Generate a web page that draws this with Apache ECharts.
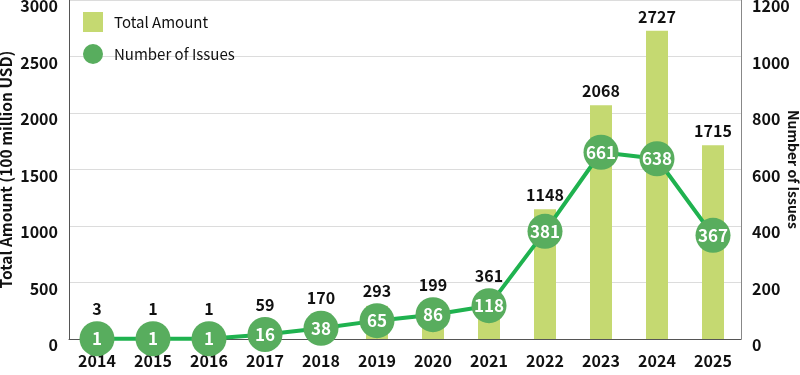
<!DOCTYPE html>
<html><head><meta charset="utf-8">
<script src="https://cdn.jsdelivr.net/npm/echarts@6/dist/echarts.min.js"></script>
<style>html,body{margin:0;padding:0;background:#fff}#c{width:800px;height:375px}</style>
</head><body><div id="c"></div>
<script>
const years = ['2014','2015','2016','2017','2018','2019','2020','2021','2022','2023','2024','2025'];
const totalAmount = [3,1,1,59,170,293,199,361,1148,2068,2727,1715];
const numberOfIssues = [1,1,1,16,38,65,86,118,381,661,638,367];
const leftTicks = {min:0,max:3000,interval:500};
const rightTicks = {min:0,max:1200,interval:200};
const FONT = '"Noto Sans CJK JP", "Noto Sans", sans-serif';
const GRID = {left:69,right:59,top:0,bottom:36};
const plotH = 375 - GRID.top - GRID.bottom;
// lift bar labels above the circle when the circle sits above the bar top
const barData = totalAmount.map((v,i)=>{
  const barPx = (v - leftTicks.min)/(leftTicks.max-leftTicks.min)*plotH;
  const circPx = (numberOfIssues[i]-rightTicks.min)/(rightTicks.max-rightTicks.min)*plotH;
  const lift = Math.max(0, circPx + 16 - barPx);
  return {value:v, label:{offset:[0,-lift]}};
});
const chart = echarts.init(document.getElementById('c'));
const tickLabel = {color:'#111',fontSize:16,fontWeight:'bold',fontFamily:FONT};
chart.setOption({
  animation:false,
  textStyle:{fontFamily:FONT},
  grid:Object.assign({outerBoundsMode:'none',containLabel:false},GRID),
  legend:{
    orient:'vertical', left:78, top:7, itemWidth:20, itemHeight:20, itemGap:12,
    textStyle:{fontFamily:FONT,fontSize:15,color:'#111',padding:[0,0,0,6]},
    data:[{name:'Total Amount',icon:'rect'},{name:'Number of Issues',icon:'circle'}]
  },
  xAxis:{
    type:'category', data:years,
    axisLine:{lineStyle:{color:'#555',width:1}},
    axisTick:{inside:true,length:5,lineStyle:{color:'#555'}},
    axisLabel:Object.assign({margin:14},tickLabel)
  },
  yAxis:[{
    type:'value', min:leftTicks.min, max:leftTicks.max, interval:leftTicks.interval,
    name:'Total Amount (100 million USD)', nameLocation:'middle', nameGap:55, nameRotate:90,
    nameMoveOverlap:false,
    nameTextStyle:{color:'#111',fontSize:15.5,fontWeight:'bold',fontFamily:FONT},
    axisLine:{show:true,lineStyle:{color:'#555'}}, axisTick:{show:false},
    axisLabel:Object.assign({margin:11,verticalAlign:'top',lineHeight:12,formatter:v=>String(v)},tickLabel),
    splitLine:{lineStyle:{color:'#dcdcdc'}}
  },{
    type:'value', min:rightTicks.min, max:rightTicks.max, interval:rightTicks.interval,
    name:'Number of Issues', nameLocation:'middle', nameGap:45, nameRotate:-90,
    nameMoveOverlap:false,
    nameTextStyle:{color:'#111',fontSize:14,fontWeight:'bold',fontFamily:FONT},
    axisLine:{show:true,lineStyle:{color:'#888'}}, axisTick:{show:false},
    axisLabel:Object.assign({margin:11,verticalAlign:'top',lineHeight:12,formatter:v=>String(v)},tickLabel),
    splitLine:{show:false}
  }],
  series:[{
    name:'Total Amount', type:'bar', data:barData, yAxisIndex:0, barWidth:22,
    itemStyle:{color:'#c5d971'},
    label:{show:true,position:'top',distance:6,color:'#111',fontSize:16,fontWeight:'bold',fontFamily:FONT}
  },{
    name:'Number of Issues', type:'line', data:numberOfIssues, yAxisIndex:1,
    symbol:'circle', symbolSize:35,
    lineStyle:{color:'#1fb24f',width:4},
    itemStyle:{color:'#58ad5e'},
    label:{show:true,position:'inside',color:'#fff',fontSize:17,fontWeight:'bold',fontFamily:FONT},
    z:5
  }]
});
</script></body></html>
